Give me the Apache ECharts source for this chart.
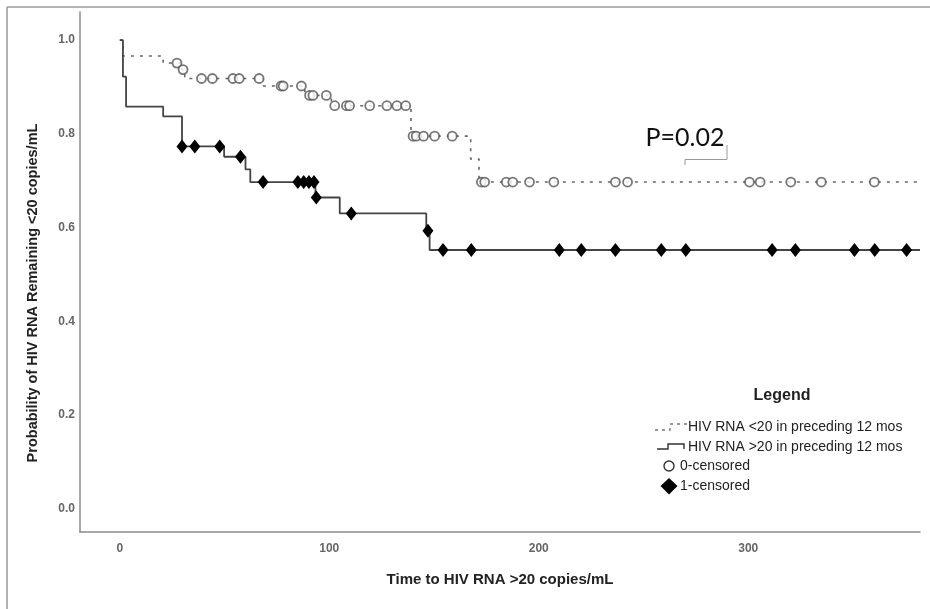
<!DOCTYPE html>
<html>
<head>
<meta charset="utf-8">
<title>HIV RNA survival</title>
<script src="https://cdn.jsdelivr.net/npm/echarts@6/dist/echarts.min.js"></script>
<style>
    html, body { margin: 0; padding: 0; background: #fff; }
    #chart { width: 930px; height: 609px; }
</style>
</head>
<body>
<div id="chart"></div>
<script>
// tick labels
var xTicks = [0, 100, 200, 300];
var yTicks = [0, 0.2, 0.4, 0.6, 0.8, 1.0];

// step points (time, probability) - group <20 in preceding 12 mos
var lowSteps = [
    [0, 1], [1.5, 0.966], [20.7, 0.951], [29.5, 0.937], [31, 0.918], [68.5, 0.902],
    [88.3, 0.882], [101, 0.86], [139, 0.795], [167.5, 0.746], [171.5, 0.697], [382, 0.697]
];
// step points - group >20 in preceding 12 mos
var highSteps = [
    [0, 1], [1.5, 0.922], [3, 0.858], [20.7, 0.837], [29.7, 0.773], [49.8, 0.751],
    [60, 0.724], [62.3, 0.697], [93.4, 0.664], [105, 0.63], [146.3, 0.593],
    [147.9, 0.552], [382, 0.552]
];
// censored marks
var lowCensored = [
    [27.3, 0.951], [30.2, 0.937], [39, 0.918], [44.2, 0.918], [54, 0.918], [57, 0.918],
    [66.5, 0.918], [77, 0.902], [78, 0.902], [86.7, 0.902], [90.6, 0.882], [92.2, 0.882],
    [98.6, 0.882], [102.6, 0.86], [108.2, 0.86], [109.7, 0.86], [119.3, 0.86], [127.5, 0.86],
    [132.3, 0.86], [136.5, 0.86], [140, 0.795], [141.5, 0.795], [145, 0.795], [150.3, 0.795],
    [158.7, 0.795], [172.6, 0.697], [174.2, 0.697], [184.5, 0.697], [187.6, 0.697],
    [195.6, 0.697], [207.2, 0.697], [236.6, 0.697], [242.4, 0.697], [300.6, 0.697],
    [305.7, 0.697], [320.3, 0.697], [334.9, 0.697], [360.2, 0.697]
];
var highCensored = [
    [29.7, 0.773], [35.8, 0.773], [47.7, 0.773], [57.6, 0.751], [68.4, 0.697], [85, 0.697],
    [87.8, 0.697], [90.3, 0.697], [92.7, 0.697], [93.8, 0.664], [110.5, 0.63], [147.1, 0.593],
    [154.3, 0.552], [167.8, 0.552], [209.8, 0.552], [220.3, 0.552], [236.6, 0.552],
    [258.5, 0.552], [270.2, 0.552], [311.4, 0.552], [322.5, 0.552], [350.7, 0.552],
    [360.4, 0.552], [375.6, 0.552]
];

var legendNames = [
    'HIV RNA <20 in preceding 12 mos',
    'HIV RNA >20 in preceding 12 mos',
    '0-censored',
    '1-censored'
];

// tiny helper instead of jQuery
var $ = { extend: function (a, b) { for (var k in b) { a[k] = b[k]; } return a; } };

function chart_init() {
    var myChart = echarts.init(document.getElementById('chart'));
    var axisGray = '#8c8c8c';
    var tickFont = { color: '#666', fontSize: 12, fontWeight: 'bold', fontFamily: 'Liberation Sans' };

    myChart.setOption({
        animation: false,
        backgroundColor: '#fff',
        grid: { left: 80, right: 10, top: 12, bottom: 77 },
        xAxis: {
            type: 'value',
            min: -19,
            max: 382,
            name: 'Time to HIV RNA >20 copies/mL',
            nameLocation: 'middle',
            nameGap: 40,
            nameTextStyle: { color: '#222', fontSize: 15, fontWeight: 'bold', fontFamily: 'Liberation Sans' },
            axisLine: { onZero: false, lineStyle: { color: axisGray, width: 1.5 } },
            axisTick: { show: false },
            splitLine: { show: false },
            axisLabel: $.extend({ customValues: xTicks, margin: 11 }, tickFont)
        },
        yAxis: {
            type: 'value',
            min: -0.05,
            max: 1.06,
            axisLine: { show: true, onZero: false, lineStyle: { color: axisGray, width: 1.5 } },
            axisTick: { show: false },
            splitLine: { show: false },
            axisLabel: $.extend({
                customValues: yTicks,
                margin: 5,
                formatter: function (v) { return v.toFixed(1); }
            }, tickFont)
        },
        series: [
            {
                name: legendNames[0],
                type: 'line',
                step: 'end',
                data: lowSteps,
                showSymbol: false,
                lineStyle: { color: '#666', width: 1.6, type: [3, 6] },
                z: 2
            },
            {
                name: legendNames[1],
                type: 'line',
                step: 'end',
                data: highSteps,
                showSymbol: false,
                lineStyle: { color: '#444', width: 1.8 },
                z: 2
            },
            {
                name: legendNames[2],
                type: 'scatter',
                data: lowCensored,
                symbol: 'circle',
                symbolSize: 9,
                itemStyle: { color: '#fff', borderColor: '#555', borderWidth: 1.8 },
                z: 3
            },
            {
                name: legendNames[3],
                type: 'scatter',
                data: highCensored,
                symbol: 'diamond',
                symbolSize: [11, 14],
                itemStyle: { color: '#000', opacity: 1 },
                z: 4
            }
        ],
        graphic: [
            // outer frame
            { type: 'line', shape: { x1: 7, y1: 7, x2: 930, y2: 7 }, style: { stroke: '#999', lineWidth: 1.5 } },
            { type: 'line', shape: { x1: 7, y1: 7, x2: 7, y2: 609 }, style: { stroke: '#999', lineWidth: 1.5 } },
            // y axis title
            {
                type: 'text', x: 33, y: 293, rotation: Math.PI / 2,
                style: {
                    text: 'Probability of HIV RNA Remaining <20 copies/mL',
                    fill: '#222', font: 'bold 14.5px "Liberation Sans"',
                    align: 'center', verticalAlign: 'middle'
                }
            },
            // p value
            {
                type: 'text', x: 685, y: 138,
                style: { text: 'P=0.02', fill: '#111', font: '25px Lato', align: 'center', verticalAlign: 'middle' }
            },
            { type: 'polyline', shape: { points: [[685, 165], [685, 159.5], [727, 159.5], [727, 145]] },
              style: { stroke: '#999', lineWidth: 1, fill: null } },
            // legend
            {
                type: 'text', x: 782, y: 396,
                style: { text: 'Legend', fill: '#222', font: 'bold 16px "Liberation Sans"', align: 'center', verticalAlign: 'middle' }
            },
            { type: 'polyline', shape: { points: [[655, 430], [670, 430], [670, 424], [687, 424]] },
              style: { stroke: '#777', lineWidth: 1.3, lineDash: [3, 4], fill: null } },
            { type: 'text', x: 688, y: 427, style: { text: legendNames[0], fill: '#222', font: '14px "Liberation Sans"', verticalAlign: 'middle' } },
            { type: 'polyline', shape: { points: [[657, 449], [668, 449], [668, 444], [684, 444], [684, 449]] },
              style: { stroke: '#333', lineWidth: 1.4, fill: null } },
            { type: 'text', x: 688, y: 447, style: { text: legendNames[1], fill: '#222', font: '14px "Liberation Sans"', verticalAlign: 'middle' } },
            { type: 'circle', shape: { cx: 669, cy: 466, r: 5 }, style: { fill: '#fff', stroke: '#333', lineWidth: 1.4 } },
            { type: 'text', x: 680, y: 466, style: { text: legendNames[2], fill: '#222', font: '14px "Liberation Sans"', verticalAlign: 'middle' } },
            { type: 'polygon', shape: { points: [[669, 478], [677.5, 486], [669, 494.5], [660.5, 486]] }, style: { fill: '#000' } },
            { type: 'text', x: 680, y: 486, style: { text: legendNames[3], fill: '#222', font: '14px "Liberation Sans"', verticalAlign: 'middle' } }
        ]
    });
}

chart_init();
</script>
</body>
</html>
